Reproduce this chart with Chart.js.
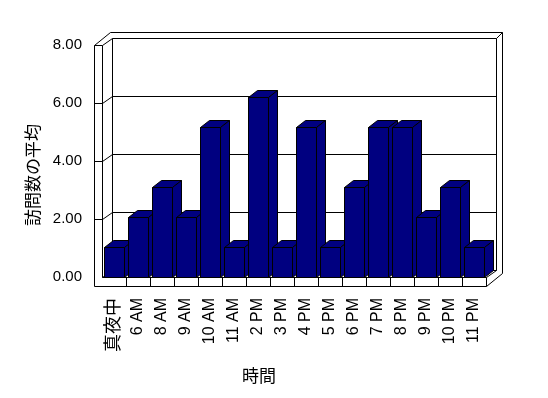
<!DOCTYPE html>
<html>
<head>
<meta charset="utf-8">
<script src="https://cdn.jsdelivr.net/npm/chart.js@4"></script>
<style>
  html, body { margin: 0; padding: 0; background: #fff; }
  #wrap { width: 548px; height: 398px; }
</style>
</head>
<body>
<div id="wrap"><canvas id="chart"></canvas></div>
<script>
// Data
const hours = ['真夜中', '6 AM', '8 AM', '9 AM', '10 AM', '11 AM', '2 PM', '3 PM',
               '4 PM', '5 PM', '6 PM', '7 PM', '8 PM', '9 PM', '10 PM', '11 PM'];
const avgVisits = [1, 2, 3, 2, 5, 1, 6, 1, 5, 1, 3, 5, 5, 2, 3, 1];
const yTicks = [0, 2, 4, 6, 8];
const yTitle = '訪問数の平均';
const xTitle = '時間';

// Look of the 3D box
const BAR_COLOR = '#000080';
const FONT = '"Liberation Sans", "Noto Sans CJK JP", sans-serif';
const CJK_FONT = '"Noto Sans CJK JP", sans-serif';
const WALL_DX = 10, WALL_DY = -7;   // front plane -> back wall
const SLAB_DX = 6, SLAB_DY = -6;    // thickness of the back wall
const WALL_W = 8, FLOOR_H = 9;      // left wall / floor thickness
const BAR_DX = 9, BAR_DY = -7;      // bar depth
const Y_MAX = 8, FRONT_MAX = 8.28;  // front axis is a bit lower than bar scale

function poly(ctx, pts) {
    ctx.beginPath();
    pts.forEach(([px, py], k) => k ? ctx.lineTo(px, py) : ctx.moveTo(px, py));
    ctx.closePath();
    ctx.fill();
    ctx.stroke();
}

const box3d = {
    id: 'box3d',
    beforeDatasetsDraw(chart) {
        const {ctx, chartArea: a, scales} = chart;
        const yf = scales.yFront, x = scales.x;
        const top = Math.round(yf.getPixelForValue(yTicks[yTicks.length - 1])) + .5;
        const bot = Math.round(a.bottom) + .5;
        const L = Math.round(a.left) + .5, R = Math.round(a.right) + .5;
        const L0 = L - WALL_W;
        const ox = WALL_DX + SLAB_DX, oy = WALL_DY + SLAB_DY;

        ctx.save();
        ctx.strokeStyle = '#000';
        ctx.lineWidth = 1;
        ctx.fillStyle = '#fff';
        // outer outline of walls + floor
        poly(ctx, [[L0, bot + FLOOR_H], [L0, top], [L0 + ox, top + oy], [R + ox, top + oy],
                   [R + ox, bot + FLOOR_H + oy], [R, bot + FLOOR_H]]);

        const line = (x1, y1, x2, y2) => { ctx.moveTo(x1, y1); ctx.lineTo(x2, y2); };
        ctx.beginPath();
        line(L, top, L, bot);
        line(L + WALL_DX, top + WALL_DY, L + WALL_DX, bot + WALL_DY);
        line(R + WALL_DX, top + WALL_DY, R + WALL_DX, bot + WALL_DY);
        line(R + WALL_DX, top + WALL_DY, R + ox, top + oy);
        line(L, bot, R, bot);
        line(R, bot, R, bot + FLOOR_H);
        line(R, bot, R + WALL_DX, bot + WALL_DY);
        // gridlines: left wall front, left wall side, back wall
        yTicks.forEach(v => {
            const y = Math.round(yf.getPixelForValue(v)) + .5;
            if (v > 0) line(L0, y, L, y);
            line(L, y, L + WALL_DX, y + WALL_DY);
            line(L + WALL_DX, y + WALL_DY, R + WALL_DX, y + WALL_DY);
        });
        // category separators on the floor edge
        for (let i = 1; i < hours.length; i++) {
            const xb = Math.round((x.getPixelForValue(i - 1) + x.getPixelForValue(i)) / 2) + .5;
            line(xb, bot, xb, bot + FLOOR_H);
        }
        ctx.stroke();
        ctx.restore();
    },
    afterDatasetsDraw(chart) {
        const {ctx} = chart;
        ctx.save();
        ctx.fillStyle = BAR_COLOR;
        ctx.strokeStyle = '#000';
        ctx.lineWidth = 1;
        // left to right so each bar hides the side of the one before
        chart.getDatasetMeta(0).data.forEach(bar => {
            const l = Math.round(bar.x - bar.width / 2) + .5, r = Math.round(bar.x + bar.width / 2) + .5;
            const t = Math.round(bar.y) + .5, b = Math.round(bar.base) + .5;
            poly(ctx, [[l, t], [r, t], [r, b], [l, b]]);
            poly(ctx, [[l, t], [l + BAR_DX, t + BAR_DY], [r + BAR_DX, t + BAR_DY], [r, t]]);
            poly(ctx, [[r, t], [r + BAR_DX, t + BAR_DY], [r + BAR_DX, b + BAR_DY], [r, b]]);
        });
        ctx.restore();
    },
    afterDraw(chart) {
        const {ctx} = chart;
        ctx.save();
        ctx.fillStyle = '#000';
        ctx.font = '17px ' + CJK_FONT;
        ctx.textAlign = 'center';
        ctx.textBaseline = 'middle';
        ctx.fillText(xTitle, 259, 376);
        ctx.translate(33, 175);
        ctx.rotate(-Math.PI / 2);
        ctx.fillText(yTitle, 0, 0);
        ctx.restore();
    }
};

new Chart(document.getElementById('chart'), {
    type: 'bar',
    data: {
        labels: hours,
        datasets: [{
            data: avgVisits,
            yAxisID: 'y',
            backgroundColor: BAR_COLOR,
            borderColor: '#000',
            borderWidth: 1,
            barPercentage: 0.8,
            categoryPercentage: 1
        }]
    },
    options: {
        responsive: true,
        maintainAspectRatio: false,
        animation: false,
        layout: { padding: { top: 37, right: 62, left: 0, bottom: 0 } },
        plugins: { legend: { display: false }, tooltip: { enabled: false } },
        scales: {
            x: {
                grid: { display: false, drawTicks: false },
                border: { display: false },
                ticks: {
                    color: '#000',
                    // the kanji label is set a little larger, like the original
                    font: c => ({ family: FONT, size: /[^\x00-\x7f]/.test(hours[c.index]) ? 18 : 16 }),
                    minRotation: 90,
                    maxRotation: 90,
                    autoSkip: false,
                    padding: 21
                },
                afterFit: s => { s.height = 121; }
            },
            y: { display: false, min: 0, max: Y_MAX },
            yFront: {
                position: 'left',
                min: 0,
                max: FRONT_MAX,
                grid: { display: false, drawTicks: false },
                border: { display: false },
                afterBuildTicks: s => { s.ticks = yTicks.map(v => ({ value: v })); },
                ticks: {
                    color: '#000',
                    font: { family: FONT, size: 15 },
                    padding: 20,
                    callback: v => v.toFixed(2)
                },
                afterFit: s => { s.width = 102; }
            }
        }
    },
    plugins: [box3d]
});
</script>
</body>
</html>
